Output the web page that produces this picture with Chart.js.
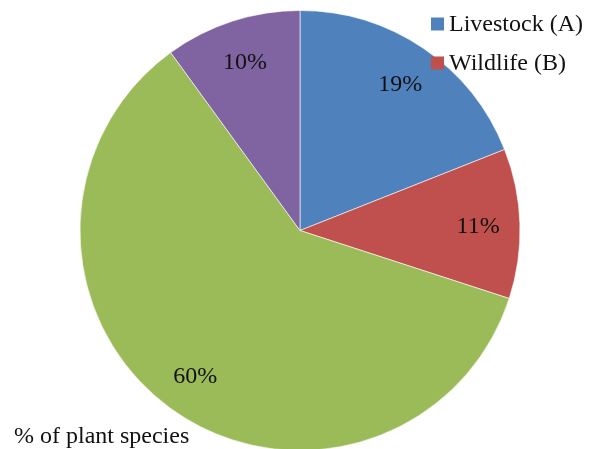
<!DOCTYPE html>
<html>
<head>
<meta charset="utf-8">
<script src="https://cdn.jsdelivr.net/npm/chart.js@4/dist/chart.umd.min.js"></script>
<style>
  html, body { margin: 0; padding: 0; background: #ffffff; }
  #wrap { position: relative; width: 591px; height: 449px; }
</style>
</head>
<body>
<div id="wrap"><canvas id="c" width="591" height="449"></canvas></div>
<script>
// Share of plant species by grazer group
const categories = ['Livestock (A)', 'Wildlife (B)', 'Both (A and B)', 'Neither'];
const shares = [19, 11, 60, 10];
const legendEntries = ['Livestock (A)', 'Wildlife (B)'];
const sliceColors = ['#4F81BD', '#C0504D', '#9BBB59', '#8064A2'];
const captionText = '% of plant species';

const serif = '"Liberation Serif", "Times New Roman", serif';

// Percentage labels inside each slice
const sliceLabels = {
  id: 'sliceLabels',
  afterDatasetsDraw(chart) {
    const ctx = chart.ctx;
    const meta = chart.getDatasetMeta(0);
    ctx.save();
    ctx.font = '24px ' + serif;
    ctx.fillStyle = '#111111';
    ctx.textAlign = 'center';
    ctx.textBaseline = 'middle';
    meta.data.forEach((arc, i) => {
      const p = arc.getProps(['x', 'y', 'startAngle', 'endAngle', 'outerRadius'], true);
      const mid = (p.startAngle + p.endAngle) / 2;
      const r = p.outerRadius * 0.81;
      ctx.fillText(shares[i] + '%', p.x + Math.cos(mid) * r, p.y + Math.sin(mid) * r + 2);
    });
    ctx.restore();
  }
};

// Legend in the top-right corner and caption at the bottom-left
const cornerText = {
  id: 'cornerText',
  afterDraw(chart) {
    const ctx = chart.ctx;
    ctx.save();
    ctx.font = '24px ' + serif;
    ctx.textBaseline = 'middle';
    ctx.textAlign = 'left';
    legendEntries.forEach((name, i) => {
      const idx = categories.indexOf(name);
      const cy = 24 + i * 39;
      ctx.fillStyle = sliceColors[idx];
      ctx.fillRect(431, cy - 6.5, 13, 13);
      ctx.fillStyle = '#111111';
      ctx.fillText(name, 449, cy + 1);
    });
    ctx.textBaseline = 'alphabetic';
    ctx.fillText(captionText, 14, 443);
    ctx.restore();
  }
};

new Chart(document.getElementById('c'), {
  type: 'pie',
  data: {
    labels: categories,
    datasets: [{
      data: shares,
      backgroundColor: sliceColors,
      borderColor: 'rgba(255,255,255,0.6)',
      borderWidth: 1,
      radius: 220
    }]
  },
  options: {
    responsive: false,
    animation: false,
    devicePixelRatio: 1,
    layout: { padding: { left: 80, right: 71, top: 12, bottom: 0 } },
    plugins: {
      legend: { display: false },
      tooltip: { enabled: false }
    }
  },
  plugins: [sliceLabels, cornerText]
});
</script>
</body>
</html>
